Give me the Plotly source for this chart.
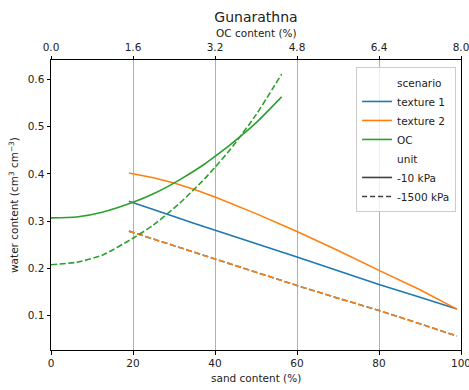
import plotly.graph_objects as go

# ---- data ----
sand_pct = [19, 25, 30, 35, 40, 50, 60, 70, 80, 90, 99]
tex1_m10 = [0.342, 0.325, 0.310, 0.295, 0.281, 0.252, 0.224, 0.195, 0.166, 0.139, 0.114]
tex1_m1500 = [0.279, 0.262, 0.249, 0.235, 0.221, 0.192, 0.164, 0.137, 0.111, 0.083, 0.057]
tex2_m10 = [0.402, 0.392, 0.381, 0.367, 0.351, 0.316, 0.278, 0.238, 0.196, 0.155, 0.114]
tex2_m1500 = [0.279, 0.262, 0.249, 0.235, 0.221, 0.192, 0.164, 0.137, 0.111, 0.083, 0.057]

oc_pct = [0, 0.5, 1.0, 1.6, 2.0, 2.5, 3.0, 3.2, 3.5, 4.0, 4.5]
oc_m10 = [0.307, 0.309, 0.319, 0.340, 0.358, 0.387, 0.421, 0.437, 0.462, 0.508, 0.563]
oc_m1500 = [0.208, 0.213, 0.228, 0.264, 0.292, 0.337, 0.390, 0.414, 0.452, 0.525, 0.611]

sand_ticks = [0, 20, 40, 60, 80, 100]
oc_ticks = [0.0, 1.6, 3.2, 4.8, 6.4, 8.0]
oc_ticktext = ["0.0", "1.6", "3.2", "4.8", "6.4", "8.0"]
y_ticks = [0.1, 0.2, 0.3, 0.4, 0.5, 0.6]

BLUE, ORANGE, GREEN, GREY = "#1f77b4", "#ff7f0e", "#2ca02c", "#404040"
DASH = "6px,2.6px"
FONT = "DejaVu Sans, Arial, sans-serif"

fig = go.Figure()

def data_line(x, y, color, dash, xaxis="x", spline=False):
    fig.add_trace(go.Scatter(
        x=x, y=y, mode="lines", xaxis=xaxis, yaxis="y", showlegend=False,
        line=dict(color=color, width=1.6, dash=dash,
                  shape="spline" if spline else "linear", smoothing=0.6),
        hoverinfo="skip"))

data_line(sand_pct, tex1_m10, BLUE, "solid")
data_line(sand_pct, tex1_m1500, BLUE, DASH)
data_line(sand_pct, tex2_m10, ORANGE, "solid")
data_line(sand_pct, tex2_m1500, ORANGE, DASH)
data_line(oc_pct, oc_m10, GREEN, "solid", xaxis="x2", spline=True)
data_line(oc_pct, oc_m1500, GREEN, DASH, xaxis="x2", spline=True)

# legend entries
legend_items = [
    ("scenario", "rgba(0,0,0,0)", "solid"),
    ("texture 1", BLUE, "solid"),
    ("texture 2", ORANGE, "solid"),
    ("OC", GREEN, "solid"),
    ("unit", "rgba(0,0,0,0)", "solid"),
    ("-10 kPa", GREY, "solid"),
    ("-1500 kPa", GREY, "5px,3px"),
]
for name, color, dash in legend_items:
    fig.add_trace(go.Scatter(x=[None], y=[None], mode="lines", name=name,
                             line=dict(color=color, width=1.6, dash=dash)))

axis_common = dict(showline=True, linecolor="black", linewidth=1,
                   ticks="outside", ticklen=3.5, tickwidth=1, tickcolor="black",
                   tickfont=dict(size=10.5, color="#222"), zeroline=False,
                   ticklabeloverflow="allow", automargin=False)

fig.update_layout(
    width=469, height=390,
    margin=dict(l=51, r=8, t=60, b=40, autoexpand=False),
    paper_bgcolor="white", plot_bgcolor="white",
    font=dict(family=FONT, color="#222"),
    title=dict(text="Gunarathna", x=0.5, xref="paper", y=1 - 17 / 390,
               yanchor="middle", font=dict(size=14, color="#222")),
    xaxis=dict(range=[0, 100], tickvals=sand_ticks, showgrid=True,
               gridcolor="#b0b0b0", gridwidth=1, **axis_common),
    xaxis2=dict(range=[0, 8], tickvals=oc_ticks, ticktext=oc_ticktext,
                overlaying="x", side="top", showgrid=False, **axis_common),
    yaxis=dict(range=[0.0275, 0.641], tickvals=y_ticks, showgrid=False,
               mirror=True, **axis_common),
    legend=dict(x=0.988, xanchor="right", y=0.976, yanchor="top",
                bgcolor="rgba(255,255,255,0.8)", bordercolor="#cccccc",
                borderwidth=1, font=dict(size=10.5, color="#222"),
                traceorder="normal", tracegroupgap=0),
    annotations=[
        dict(text="sand content (%)", xref="paper", yref="paper", x=0.5,
             y=(350 - 378) / 290, showarrow=False, yanchor="middle",
             font=dict(size=10.5, color="#222")),
        dict(text="OC content (%)", xref="paper", yref="paper", x=0.5,
             y=(350 - 33) / 290, showarrow=False, yanchor="middle",
             font=dict(size=10.5, color="#222")),
        dict(text="water content (cm<sup>3</sup> cm<sup>\u22123</sup>)",
             xref="paper", yref="paper", x=(13 - 51) / 410, y=0.5,
             textangle=-90, showarrow=False, xanchor="center",
             yanchor="middle", font=dict(size=10.5, color="#222")),
    ],
)

fig.write_html("out.html")
